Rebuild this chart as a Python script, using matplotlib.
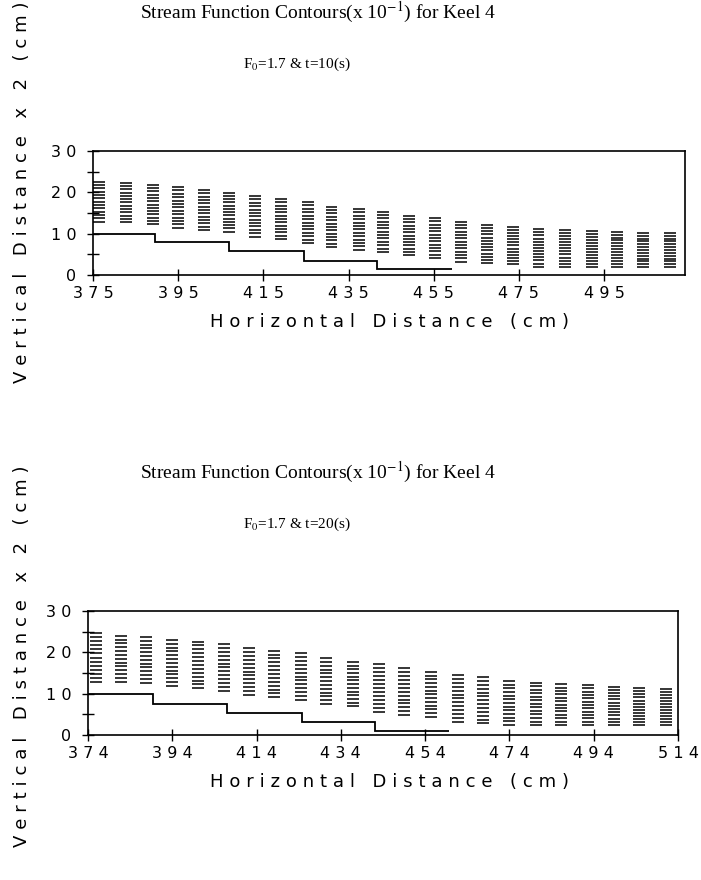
import numpy as np
import matplotlib
matplotlib.use('Agg')
import matplotlib.pyplot as plt
from matplotlib.ticker import MultipleLocator, FuncFormatter

# --- t = 10 s panel: dash-column stations (cm) with top / bottom contour heights
x_t10 = [375.0, 381.3, 387.7, 393.5, 399.6, 405.5, 411.6, 417.7, 424.0, 429.6, 436.0, 441.6,
         447.7, 454.0, 459.9, 466.2, 472.3, 478.2, 484.5, 490.8, 496.7, 502.8, 509.1]
top_t10 = [22.6, 22.3, 21.8, 21.3, 20.6, 19.9, 19.1, 18.4, 17.7, 16.5, 16.0, 15.3,
           14.3, 13.8, 12.9, 12.1, 11.6, 11.1, 10.9, 10.6, 10.5, 10.2, 10.2]
bot_t10 = [12.9, 12.8, 12.3, 11.4, 10.9, 10.5, 9.3, 8.7, 7.7, 6.8, 6.1, 5.6,
           4.8, 4.1, 3.2, 2.9, 2.7, 2.0, 2.0, 2.0, 1.9, 1.9, 1.9]
keel_x_t10 = [375, 389.5, 406.9, 424.5, 441.7, 459.4]
keel_y_t10 = [10.0, 7.9, 5.8, 3.4, 1.4]
xticks_t10 = [375, 395, 415, 435, 455, 475, 495]

# --- t = 20 s panel
x_t20 = [374.5, 380.4, 386.3, 392.5, 398.7, 404.8, 410.8, 416.7, 423.1, 429.1, 435.5, 441.6,
         447.6, 454.0, 460.4, 466.3, 472.5, 478.9, 484.8, 491.2, 497.4, 503.3, 509.7]
top_t20 = [24.6, 24.0, 23.7, 23.0, 22.6, 22.0, 21.0, 20.4, 19.8, 18.6, 17.7, 17.2,
           16.1, 15.3, 14.5, 14.0, 13.1, 12.7, 12.3, 12.1, 11.7, 11.3, 11.1]
bot_t20 = [12.9, 12.9, 12.7, 11.9, 11.3, 10.7, 9.7, 9.1, 8.5, 7.5, 6.9, 5.6,
           4.8, 4.4, 3.2, 2.8, 2.4, 2.4, 2.4, 2.4, 2.4, 2.4, 2.4]
keel_x_t20 = [374, 389.5, 407.1, 424.8, 442.2, 459.6]
keel_y_t20 = [9.9, 7.5, 5.3, 3.1, 1.0]
xticks_t20 = [374, 394, 414, 434, 454, 474, 494, 514]

n_lines = 13      # contour levels per column
dash_len = 2.8    # cm

SP = '\u2004'


def spaced(s):
    """Wide letter spacing like the old plotter font."""
    return SP.join(s)


def draw_panel(fig, rect, xs, tops, bots, keel_x, keel_y, xlim, xticks):
    ax = fig.add_axes(rect)

    segx, segy = [], []
    for x, top, bot in zip(xs, tops, bots):
        for y in np.linspace(bot, top, n_lines):
            segx += [x, x + dash_len, np.nan]
            segy += [y, y, np.nan]
    ax.plot(segx, segy, color='k', lw=1.1, solid_capstyle='butt')
    ax.stairs(keel_y, keel_x, baseline=None, color='k', lw=1.3)

    ax.set_xlim(*xlim)
    ax.set_ylim(0, 30)
    ax.set_xticks(xticks)
    ax.yaxis.set_major_locator(MultipleLocator(10))
    ax.yaxis.set_minor_locator(MultipleLocator(5))
    fmt = FuncFormatter(lambda v, p: spaced(f'{v:.0f}'))
    ax.xaxis.set_major_formatter(fmt)
    ax.yaxis.set_major_formatter(fmt)
    ax.tick_params(which='both', direction='inout', length=8, width=1.0,
                   labelsize=11.5, top=False, right=False)
    ax.tick_params(axis='x', pad=4)
    ax.tick_params(axis='y', pad=8)
    for s in ax.spines.values():
        s.set_linewidth(1.2)
    return ax


plt.rcParams['mathtext.fontset'] = 'stix'
plt.rcParams['font.family'] = 'DejaVu Sans'

fig = plt.figure(figsize=(7.01, 8.8), dpi=100)
W, H = 701.0, 880.0

panels = [
    (93, 685, 151, 275, x_t10, top_t10, bot_t10, keel_x_t10, keel_y_t10, (375, 514), xticks_t10, '10', 0),
    (88, 678, 611, 735, x_t20, top_t20, bot_t20, keel_x_t20, keel_y_t20, (374, 514), xticks_t20, '20', 460),
]

for l, r, t, b, xs, tops, bots, kx, ky, xlim, xt, tt, off in panels:
    rect = [l / W, 1 - b / H, (r - l) / W, (b - t) / H]
    draw_panel(fig, rect, xs, tops, bots, kx, ky, xlim, xt)
    fig.text(318 / W, 1 - (12 + off) / H,
             r'Stream Function Contours(x 10$^{-1}$) for Keel 4',
             family='Liberation Serif', fontsize=14, ha='center', va='center')
    fig.text(297 / W, 1 - (64 + off) / H,
             r'F$_0$=1.7 & t=' + tt + '(s)',
             family='Liberation Serif', fontsize=11, ha='center', va='center')
    fig.text(389 / W, 1 - (b + 47) / H, spaced('Horizontal Distance (cm)'),
             fontsize=13, ha='center', va='center')
    fig.text(22 / W, 1 - (192 + off * 1.01) / H, spaced('Vertical Distance x 2 (cm)'),
             fontsize=13, ha='center', va='center', rotation=90)

fig.savefig('out.png', dpi=100)
